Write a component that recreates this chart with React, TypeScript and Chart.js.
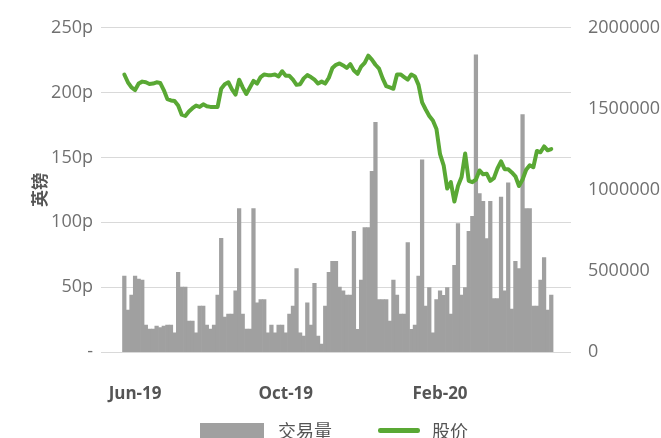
import React, { useEffect, useRef } from "react";
import { Chart, registerables } from "chart.js";

Chart.register(...registerables);

// ---- data ----
const seriesNames = ["交易量", "股价"];
const yTitle = "英镑";
const xTickLabels = ["Jun-19", "Oct-19", "Feb-20"];
const xTickIndex = [3, 45, 88];

// share price (pence)
const price = [
  214, 208, 204, 202, 207, 208.5, 208, 206.7, 207, 208,
  207.5, 202, 195, 194, 193.5, 190, 183, 182, 185.5, 188,
  190, 189, 191, 189.5, 189, 189, 189, 203, 206.5, 208,
  202.5, 198.5, 210, 204, 199, 204, 209, 207, 212, 214,
  213.5, 213.5, 214, 212.5, 216.5, 213, 213, 210, 206, 206.5,
  211, 213.5, 212, 210, 207, 208.5, 207, 211.5, 219, 221.5,
  222.5, 221, 219, 222, 217, 214.5, 220, 223, 228.5, 225.5,
  221.5, 218.5, 211, 205, 204, 203, 214, 214, 212, 210,
  214, 212.5, 206, 192.5, 187, 182, 178.5, 172, 152.5, 144,
  126, 131, 116, 128, 135, 153, 132, 131, 133, 140,
  137, 137.5, 132, 134, 141.5, 147, 141, 141, 138.5, 135.5,
  128, 133, 140.5, 144, 142.5, 155, 154, 158.5, 155.5, 156.5,
];

// trading volume
const volume = [
  468000, 258000, 351000, 468000, 450000, 443000, 166000, 142000, 142000, 160000,
  150000, 160000, 166000, 166000, 119000, 492000, 400000, 400000, 191000, 191000,
  119000, 283000, 283000, 166000, 142000, 166000, 351000, 702000, 215000, 234000,
  234000, 377000, 884000, 234000, 142000, 142000, 884000, 303000, 324000, 324000,
  119000, 166000, 119000, 166000, 166000, 119000, 234000, 283000, 515000, 119000,
  98000, 303000, 166000, 423000, 98000, 49000, 283000, 492000, 560000, 560000,
  400000, 377000, 351000, 351000, 745000, 140000, 443000, 767000, 767000, 1114000,
  1417000, 324000, 324000, 324000, 191000, 443000, 351000, 234000, 234000, 675000,
  140000, 166000, 468000, 1186000, 283000, 398000, 119000, 324000, 377000, 350000,
  398000, 234000, 535000, 792000, 351000, 398000, 745000, 837000, 1834000, 977000,
  929000, 700000, 929000, 330000, 330000, 956000, 377000, 1044000, 265000, 560000,
  515000, 1465000, 884000, 884000, 283000, 283000, 443000, 583000, 258000, 351000,
];

const LEAD = 6;
const TRAIL = 5;

const GREEN = "#59a834";
const GREY = "#a0a0a0";

export default function App() {
  const ref = useRef<HTMLCanvasElement | null>(null);

  useEffect(() => {
    if (!ref.current) return;
    const pad = (arr: any[], fill: any) => [
      ...Array(LEAD).fill(fill),
      ...arr,
      ...Array(TRAIL).fill(fill),
    ];
    const dataLabels = price.map((_, i) => {
      const k = xTickIndex.indexOf(i);
      return k >= 0 ? xTickLabels[k] : "";
    });
    const labels = pad(dataLabels, "");

    const chart = new Chart(ref.current, {
      type: "bar",
      data: {
        labels,
        datasets: [
          {
            type: "line",
            label: seriesNames[1],
            data: pad(price, null),
            yAxisID: "y",
            borderColor: GREEN,
            backgroundColor: GREEN,
            borderWidth: 4,
            pointRadius: 0,
            tension: 0,
            borderJoinStyle: "round",
            borderCapStyle: "round",
            order: 0,
          } as any,
          {
            type: "bar",
            label: seriesNames[0],
            data: pad(volume, null),
            yAxisID: "yR",
            backgroundColor: GREY,
            categoryPercentage: 1,
            barPercentage: 1,
            order: 1,
          } as any,
        ],
      },
      options: {
        responsive: false,
        devicePixelRatio: 1,
        animation: false,
        layout: { padding: { top: 27, left: 0, right: 0, bottom: 0 } },
        plugins: { legend: { display: false }, tooltip: { enabled: false } },
        font: { family: "'Open Sans'" } as any,
        scales: {
          x: {
            grid: { display: false, drawTicks: false },
            border: { display: false },
            ticks: {
              autoSkip: false,
              maxRotation: 0,
              minRotation: 0,
              padding: 32,
              color: "#555555",
              font: { family: "'Open Sans'", size: 17, weight: "bold" },
            },
            afterFit: (s: any) => {
              s.height = 86;
            },
          },
          y: {
            position: "left",
            min: 0,
            max: 250,
            ticks: {
              stepSize: 50,
              padding: 8,
              color: "#707070",
              font: { family: "'Open Sans'", size: 18 },
              callback: (v: any) => (v === 0 ? "-" : v + "p"),
            },
            grid: { color: "#d9d9d9", lineWidth: 1, drawTicks: false },
            border: { display: false },
            title: {
              display: true,
              text: yTitle,
              color: "#555555",
              font: { family: "'Noto Sans CJK SC'", size: 17, weight: "bold" },
              padding: { top: 29, bottom: 0 },
            },
            afterFit: (s: any) => {
              s.width = 101;
            },
          },
          yR: {
            position: "right",
            min: 0,
            max: 2000000,
            ticks: {
              stepSize: 500000,
              padding: 17,
              color: "#707070",
              font: { family: "'Open Sans'", size: 18 },
              callback: (v: any) => String(v),
            },
            grid: { display: false, drawTicks: false },
            border: { display: false },
            afterFit: (s: any) => {
              s.width = 90;
            },
          },
        } as any,
      },
    });
    return () => chart.destroy();
  }, []);

  const legendText: React.CSSProperties = {
    position: "absolute",
    top: 421,
    fontFamily: "'Noto Sans CJK SC'",
    fontSize: 18,
    lineHeight: "18px",
    color: "#555555",
    whiteSpace: "nowrap",
  };

  return (
    <div
      style={{
        position: "fixed",
        left: 0,
        top: 0,
        width: 661,
        height: 438,
        overflow: "hidden",
        background: "#ffffff",
      }}
    >
      <canvas
        ref={ref}
        width={661}
        height={438}
        style={{ display: "block", width: 661, height: 438 }}
      />
      <div
        style={{
          position: "absolute",
          left: 200,
          top: 423,
          width: 64,
          height: 16,
          background: GREY,
        }}
      />
      <div style={{ ...legendText, left: 278 }}>{seriesNames[0]}</div>
      <div
        style={{
          position: "absolute",
          left: 378,
          top: 428,
          width: 42,
          height: 4.5,
          borderRadius: 2.25,
          background: GREEN,
        }}
      />
      <div style={{ ...legendText, left: 432 }}>{seriesNames[1]}</div>
    </div>
  );
}
